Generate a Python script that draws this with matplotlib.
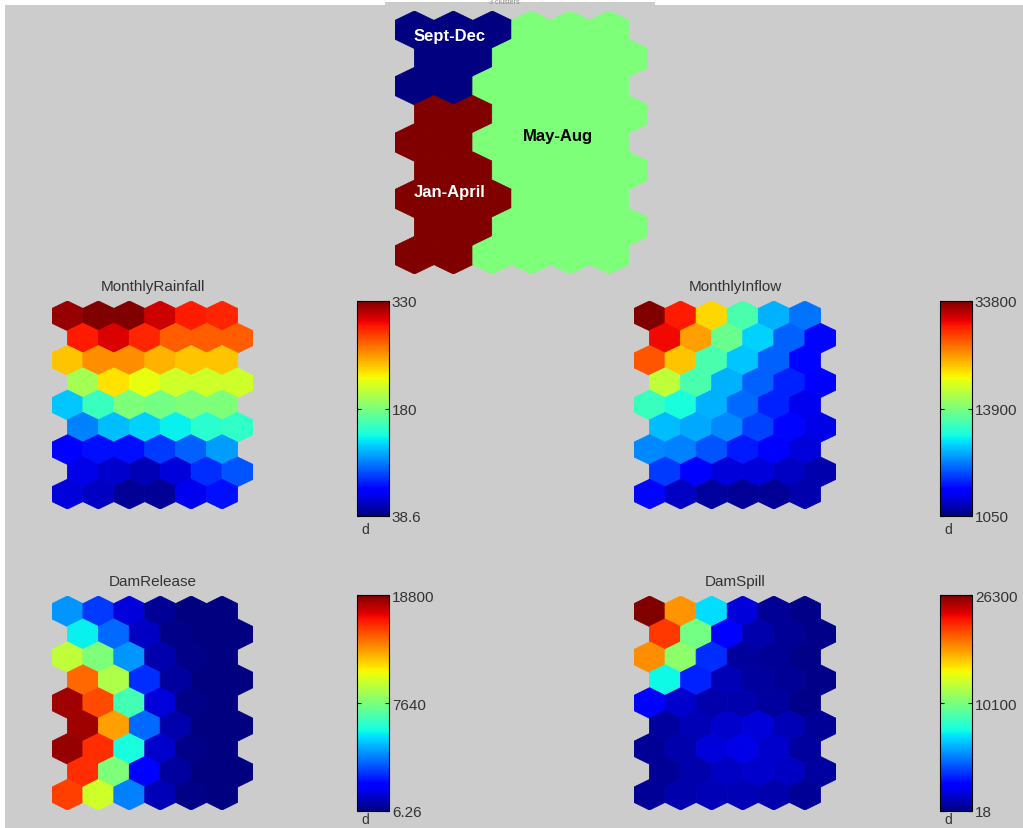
import numpy as np
import matplotlib
matplotlib.use("Agg")
import matplotlib.pyplot as plt
from matplotlib.collections import PolyCollection
from matplotlib.colors import Normalize
from matplotlib.colorbar import ColorbarBase
from matplotlib.patches import Rectangle

plt.rcParams['font.family'] = ['Liberation Sans', 'DejaVu Sans']

# cluster map: 0 = Sept-Dec, 1 = May-Aug, 2 = Jan-April
clusters = [
    [0, 0, 0, 1, 1, 1],
    [0, 0, 1, 1, 1, 1],
    [0, 0, 1, 1, 1, 1],
    [2, 2, 1, 1, 1, 1],
    [2, 2, 1, 1, 1, 1],
    [2, 2, 1, 1, 1, 1],
    [2, 2, 2, 1, 1, 1],
    [2, 2, 1, 1, 1, 1],
    [2, 2, 1, 1, 1, 1],
]
cluster_names = ['Sept-Dec', 'May-Aug', 'Jan-April']

rainfall = [
    [0.98, 1.00, 1.00, 0.93, 0.88, 0.87],
    [0.88, 0.92, 0.87, 0.81, 0.81, 0.81],
    [0.70, 0.76, 0.76, 0.72, 0.70, 0.70],
    [0.55, 0.67, 0.63, 0.60, 0.60, 0.60],
    [0.32, 0.42, 0.50, 0.49, 0.50, 0.50],
    [0.25, 0.31, 0.33, 0.36, 0.40, 0.41],
    [0.12, 0.14, 0.14, 0.18, 0.22, 0.28],
    [0.09, 0.07, 0.05, 0.08, 0.17, 0.21],
    [0.08, 0.06, 0.02, 0.02, 0.10, 0.14],
]
inflow = [
    [1.00, 0.88, 0.68, 0.44, 0.30, 0.24],
    [0.90, 0.74, 0.48, 0.33, 0.22, 0.13],
    [0.82, 0.70, 0.44, 0.32, 0.22, 0.13],
    [0.58, 0.44, 0.30, 0.22, 0.16, 0.11],
    [0.42, 0.38, 0.30, 0.23, 0.16, 0.10],
    [0.31, 0.29, 0.26, 0.19, 0.13, 0.09],
    [0.26, 0.25, 0.21, 0.15, 0.12, 0.08],
    [0.18, 0.12, 0.08, 0.08, 0.06, 0.04],
    [0.13, 0.06, 0.03, 0.02, 0.02, 0.04],
]
release = [
    [0.27, 0.18, 0.08, 0.02, 0.00, 0.00],
    [0.36, 0.23, 0.06, 0.01, 0.00, 0.00],
    [0.58, 0.50, 0.27, 0.04, 0.01, 0.00],
    [0.80, 0.56, 0.17, 0.03, 0.00, 0.00],
    [0.97, 0.83, 0.43, 0.08, 0.01, 0.00],
    [0.97, 0.74, 0.23, 0.04, 0.00, 0.00],
    [0.98, 0.86, 0.38, 0.07, 0.01, 0.00],
    [0.86, 0.50, 0.12, 0.03, 0.00, 0.00],
    [0.84, 0.60, 0.25, 0.05, 0.01, 0.00],
]
spill = [
    [1.00, 0.75, 0.34, 0.08, 0.02, 0.01],
    [0.85, 0.49, 0.12, 0.04, 0.02, 0.01],
    [0.76, 0.52, 0.17, 0.03, 0.02, 0.01],
    [0.37, 0.16, 0.05, 0.03, 0.02, 0.01],
    [0.12, 0.07, 0.04, 0.04, 0.03, 0.01],
    [0.03, 0.05, 0.07, 0.08, 0.05, 0.02],
    [0.02, 0.04, 0.08, 0.09, 0.07, 0.03],
    [0.02, 0.04, 0.06, 0.07, 0.06, 0.03],
    [0.02, 0.04, 0.05, 0.05, 0.04, 0.02],
]

titles = ['MonthlyRainfall', 'MonthlyInflow', 'DamRelease', 'DamSpill']
cbar_labels = [['38.6', '180', '330'],
               ['1050', '13900', '33800'],
               ['6.26', '7640', '18800'],
               ['18', '10100', '26300']]

W, H = 1023, 829
bg = '#cccccc'
txt = '#333333'
fig = plt.figure(figsize=(W / 100, H / 100), dpi=100, facecolor='white')

# grey page with the white seams of the pasted screenshot
fig.add_artist(Rectangle((5 / W, 0), 1, 1 - 6 / H, transform=fig.transFigure,
                         facecolor=bg, edgecolor='none', zorder=-10))
fig.add_artist(Rectangle((385 / W, 1 - 6 / H), 270 / W, 3 / H, transform=fig.transFigure,
                         facecolor=bg, edgecolor='none', zorder=-10))


def px_axes(l, t, r, b):
    return fig.add_axes([l / W, 1 - b / H, (r - l) / W, (b - t) / H])


def hex_plane(ax, values, norm):
    r = 1 / np.sqrt(3)
    dy = np.sqrt(3) / 2
    ang = np.radians(30 + 60 * np.arange(6))
    verts = []
    c = []
    for j, row in enumerate(values):
        for i, v in enumerate(row):
            cx = i + 0.5 * (j % 2)
            cy = -j * dy
            verts.append(np.column_stack([cx + r * np.cos(ang), cy + r * np.sin(ang)]))
            c.append(v)
    pc = PolyCollection(verts, array=np.array(c), cmap='jet', norm=norm,
                        edgecolors='face', linewidths=0.6)
    ax.add_collection(pc)
    ax.set_xlim(-0.5, len(values[0]))
    ax.set_ylim(-(len(values) - 1) * dy - r, r)
    ax.axis('off')


# top: cluster map
ax = px_axes(395, 12, 648, 275)
hex_plane(ax, clusters, Normalize(0, 2))
fig.text(504 / W, 1 - 3 / H, '3 clusters', fontsize=5, color='#888888',
         ha='center', va='center')
fig.text(450 / W, 1 - 37 / H, cluster_names[0], fontsize=12, fontweight='bold',
         color='white', ha='center', va='center')
fig.text(558 / W, 1 - 137 / H, cluster_names[1], fontsize=12, fontweight='bold',
         color='black', ha='center', va='center')
fig.text(450 / W, 1 - 193 / H, cluster_names[2], fontsize=12, fontweight='bold',
         color='white', ha='center', va='center')

# component planes
planes = [rainfall, inflow, release, spill]
plane_boxes = [(52, 302, 253, 510), (634, 302, 836, 510),
               (52, 597, 253, 811), (634, 597, 836, 811)]
cbar_boxes = [(357, 302, 389, 517), (940, 302, 972, 517),
              (357, 596, 389, 812), (940, 596, 972, 812)]

for k in range(4):
    l, t, r, b = plane_boxes[k]
    ax = px_axes(l, t, r, b)
    hex_plane(ax, planes[k], Normalize(0, 1))
    fig.text((l + r) / 2 / W, 1 - (t - 15) / H, titles[k], fontsize=11,
             color=txt, ha='center', va='center')

    cl, ct, cr, cb = cbar_boxes[k]
    cax = px_axes(cl, ct, cr, cb)
    cbar = ColorbarBase(cax, cmap='jet', norm=Normalize(0, 1),
                        ticks=[0, 0.5, 1], orientation='vertical')
    cbar.set_ticklabels(cbar_labels[k])
    cbar.outline.set_linewidth(0.8)
    cax.tick_params(direction='in', left=True, right=True, length=3,
                    width=0.8, labelsize=11, labelcolor=txt, pad=2)
    d_y = min(cb + 13, H - 9)
    fig.text((cl + 8) / W, 1 - d_y / H, 'd', fontsize=10, color=txt,
             ha='center', va='center')

fig.savefig('out.png', dpi=100, facecolor=fig.get_facecolor())
